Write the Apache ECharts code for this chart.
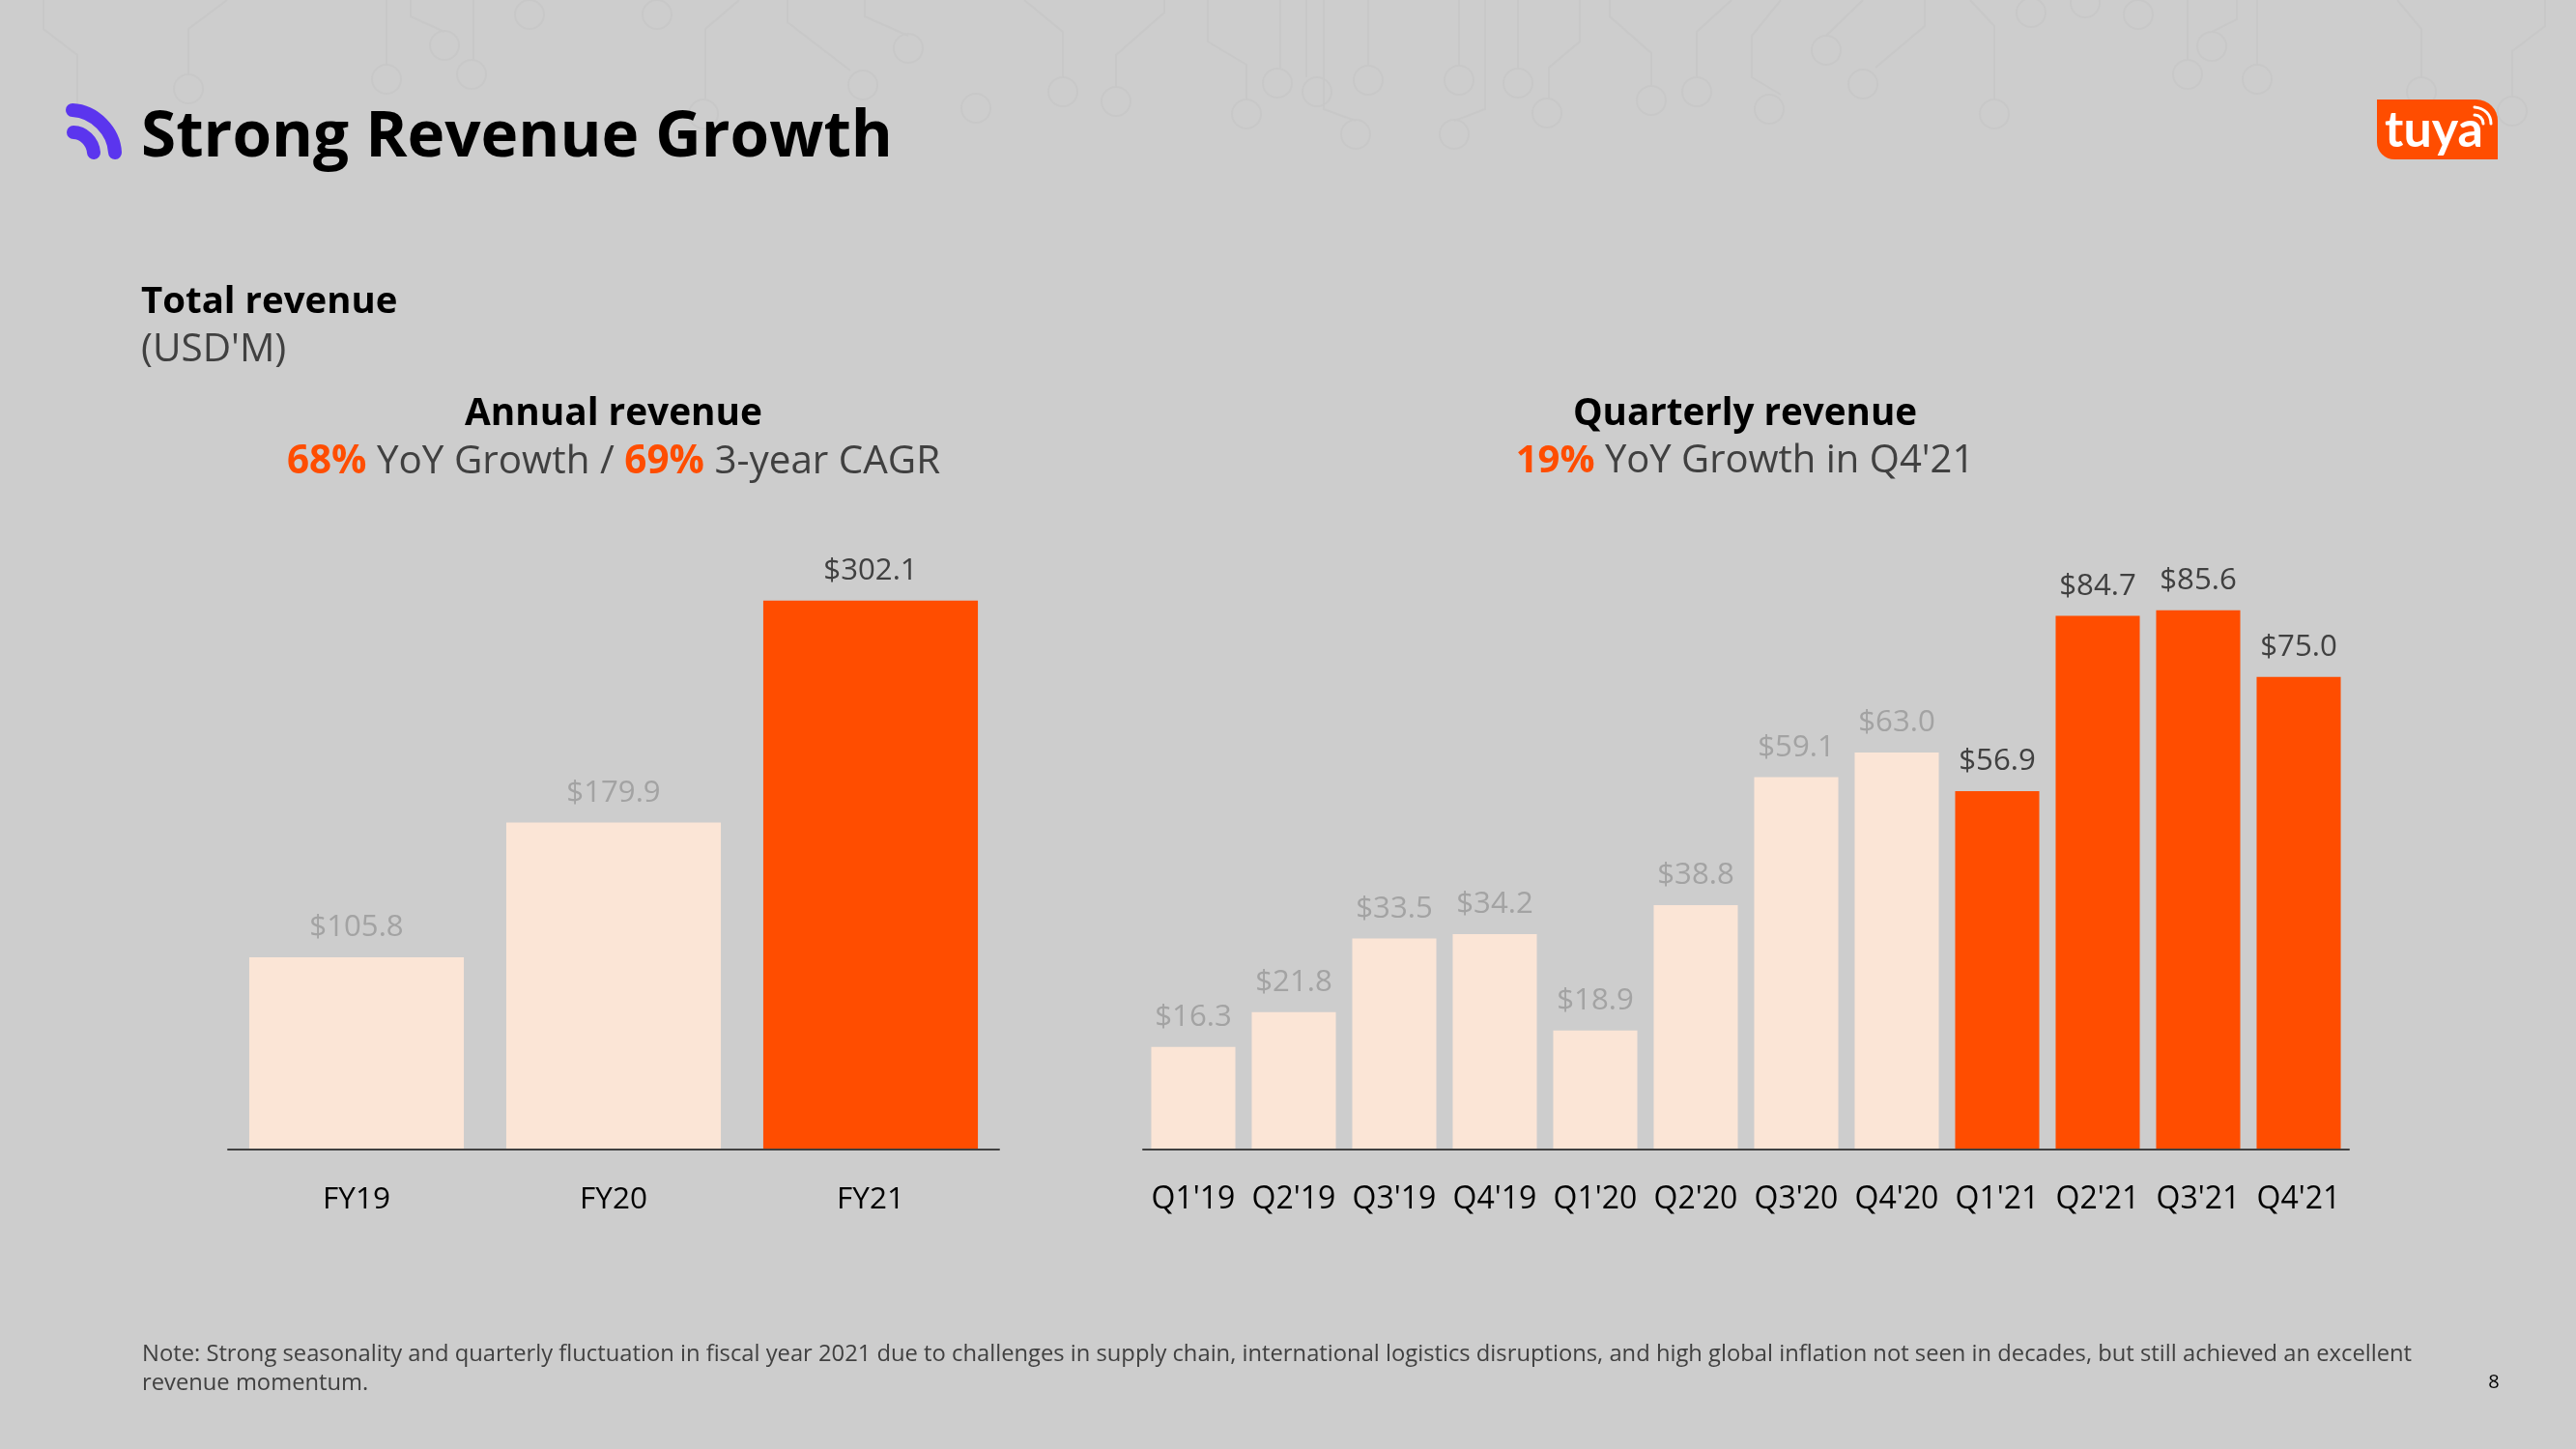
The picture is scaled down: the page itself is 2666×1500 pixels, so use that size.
<!DOCTYPE html>
<html><head><meta charset="utf-8">
<style>html,body{margin:0;padding:0;background:#cdcdcd}#c{width:2666px;height:1500px}</style>
<script src="https://cdn.jsdelivr.net/npm/echarts@6/dist/echarts.min.js"></script>
</head><body><div id="c"></div>
<script>
const annualCats = ["FY19","FY20","FY21"];
const annualVals = [105.8,179.9,302.1];
const quarterCats = ["Q1'19","Q2'19","Q3'19","Q4'19","Q1'20","Q2'20","Q3'20","Q4'20","Q1'21","Q2'21","Q3'21","Q4'21"];
const quarterVals = [16.3,21.8,33.5,34.2,18.9,38.8,59.1,63.0,56.9,84.7,85.6,75.0];
const annualHi = ["FY21"];
const quarterHi = ["Q1'21","Q2'21","Q3'21","Q4'21"];

const ORANGE="#ff4d00", PALE="#fbe5d6", FONT="'Open Sans'";
const mk=(cats,vals,hi,ax,fs)=>({
  type:'bar',xAxisIndex:ax,yAxisIndex:ax,barCategoryGap:ax===0?'16.5%':'16.3%',
  data:vals.map((v,i)=>{const h=hi.includes(cats[i]);return {value:v,itemStyle:{color:h?ORANGE:PALE},
    label:{color:h?'#404040':'#a3a3a3'}};}),
  label:{show:true,position:'top',distance:15,fontFamily:FONT,fontSize:fs,formatter:p=>'$'+p.value.toFixed(1)}
});
const xa=(cats,i,fs,m)=>({type:'category',gridIndex:i,data:cats,z:5,
  axisLine:{lineStyle:{color:'#404040',width:2}},axisTick:{show:false},
  axisLabel:{color:'#000',fontFamily:FONT,fontSize:fs,margin:m,interval:0}});
const ya=(i,max)=>({type:'value',gridIndex:i,min:0,max,show:false,splitLine:{show:false}});
const T=(x,y,text,o,z)=>({type:'text',x,y,z:z||5,silent:true,style:Object.assign({text,fontFamily:FONT,fill:'#000',verticalAlign:'middle'},o)});
const FAINT='#c8c8c8';
const wire=pts=>({type:'polyline',silent:true,z:-1,shape:{points:pts},style:{fill:null,stroke:FAINT,lineWidth:2}});
const circ=(cx,cy)=>({type:'circle',silent:true,z:-1,shape:{cx,cy,r:15},style:{fill:null,stroke:FAINT,lineWidth:2}});
const curve=(a,b,c,d,col,w)=>({type:'bezierCurve',silent:true,z:7,shape:{x1:a[0],y1:a[1],cpx1:b[0],cpy1:b[1],cpx2:c[0],cpy2:c[1],x2:d[0],y2:d[1]},style:{fill:null,stroke:col,lineWidth:w,lineCap:'round'}});

const bgRings=[[195,92],[400,82],[460,47],[488,77],[548,15],[680,15],[728,118],[940,50],[893,88],[1010,112],[1100,95],[1155,105],[1290,118],[1322,86],[1403,139],[1510,83],
 [1363,95],[1416,83],[1571,86],[1601,117],[1505,139],[1709,104],[1756,95],[1831,113],[1890,52],[1928,87],[2064,118],[2102,13],[2213,15],[2158,3],[2289,48],[2264,77],[2336,82],[2506,95],[2600,115]];
const bgWires=[
 [[45,0],[45,30],[80,57],[80,110]],[[235,0],[195,30],[195,77]],[[400,0],[400,67]],[[425,0],[425,17],[460,33]],[[490,0],[490,63]],
 [[765,0],[730,30],[730,103]],[[815,0],[815,23],[880,73]],[[895,0],[895,17],[940,37]],[[1060,0],[1100,33],[1100,80]],[[1205,0],[1205,13],[1155,57],[1155,90]],
 [[1250,0],[1250,43],[1290,67],[1290,103]],[[1325,0],[1325,72]],[[1370,0],[1370,113],[1403,125]],[[1510,0],[1510,68]],
 [[1352,0],[1352,80]],[[1416,0],[1416,67]],[[1537,0],[1537,113],[1505,125]],[[1571,0],[1571,71]],[[1635,0],[1635,43],[1603,70],[1603,102]],
 [[1666,0],[1666,17],[1709,55],[1709,88]],[[1792,0],[1756,33],[1756,80]],[[1843,0],[1813,37],[1813,80],[1843,98]],[[1928,0],[1890,37]],
 [[1992,0],[1992,27],[1941,70]],[[2039,0],[2064,27],[2064,103]],[[2264,0],[2264,62]],[[2315,0],[2315,20],[2289,33]],[[2336,0],[2336,67]],
 [[2481,0],[2506,30],[2506,80]],[[2634,0],[2634,27],[2600,53],[2600,100]]
];
const richA={o:{fill:ORANGE,fontSize:40.4,fontWeight:700,fontFamily:FONT},g:{fill:'#404040',fontSize:40.4,fontFamily:FONT}};
const richQ={o:{fill:ORANGE,fontSize:40,fontWeight:700,fontFamily:FONT},g:{fill:'#404040',fontSize:40,fontFamily:FONT}};
const graphics=[
  ...bgWires.map(wire),...bgRings.map(r=>circ(r[0],r[1])),
  curve([75,114],[98,115],[118,136],[119,158],'#5b35ee',14),
  curve([76,137],[86,137],[96,146],[97,158],'#5b35ee',14),
  T(146,143,"Strong Revenue Growth",{fontSize:65.6,fontWeight:700}),
  T(146,313,"Total revenue",{fontSize:38.4,fontWeight:700}),
  T(146,362,"(USD'M)",{fontSize:40.5,fill:'#404040'}),
  T(635,429,"Annual revenue",{fontSize:38.8,fontWeight:700,align:'center'}),
  {type:'text',x:635,y:478,z:5,silent:true,style:{align:'center',verticalAlign:'middle',rich:richA,
    text:"{o|68%}{g| YoY Growth / }{o|69%}{g| 3-year CAGR}"}},
  T(1806,429,"Quarterly revenue",{fontSize:38.6,fontWeight:700,align:'center'}),
  {type:'text',x:1806,y:478,z:5,silent:true,style:{align:'center',verticalAlign:'middle',rich:richQ,
    text:"{o|19%}{g| YoY Growth in Q4'21}"}},
  T(147,1402,"Note: Strong seasonality and quarterly fluctuation in fiscal year 2021 due to challenges in supply chain, international logistics disruptions, and high global inflation not seen in decades, but still achieved an excellent",{fontSize:23.75,fill:'#404040'}),
  T(147,1432,"revenue momentum.",{fontSize:23.75,fill:'#404040'}),
  T(2581,1431,"8",{fontSize:20,align:'center'}),
  {type:'rect',silent:true,z:5,shape:{x:2460,y:103,width:125,height:62,r:[0,22,0,18]},style:{fill:ORANGE}},
  T(2519,135,"tuya",{fontSize:52,fontWeight:700,fill:'#fff',align:'center',fontFamily:"Lato"},6),
  curve([2561,111],[2572,112],[2578,119],[2578,128],'#fff',3),
  curve([2561,119],[2566,119],[2570,123],[2570,128],'#fff',3)
];

const chart=echarts.init(document.getElementById('c'),null,{renderer:'canvas'});
chart.setOption({
  backgroundColor:'#cdcdcd',animation:false,
  grid:[{left:236,width:798,top:588,height:602},{left:1183,width:1248,top:603,height:587}],
  xAxis:[xa(annualCats,0,31.5,36),xa(quarterCats,1,32,36)],
  yAxis:[ya(0,320),ya(1,90)],
  series:[mk(annualCats,annualVals,annualHi,0,31.2),mk(quarterCats,quarterVals,quarterHi,1,31.2)],
  graphic:graphics
});
</script></body></html>
